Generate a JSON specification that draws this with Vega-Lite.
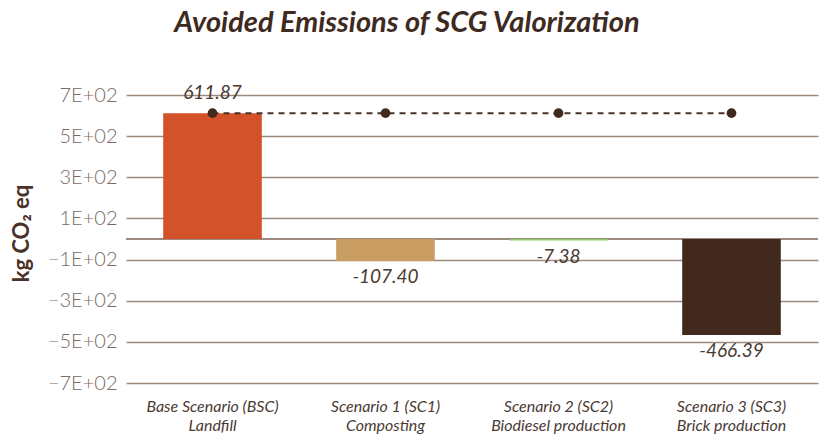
{
  "$schema": "https://vega.github.io/schema/vega-lite/v6.json",
  "autosize": {"type": "none"},
  "width": 692,
  "height": 288,
  "padding": {"left": 126, "top": 95, "right": 4, "bottom": 53},
  "background": "white",
  "config": {
    "font": "Lato",
    "view": {"stroke": null},
    "axis": {"labelFont": "Lato", "titleFont": "Lato"}
  },
  "title": {
    "text": "Avoided Emissions of SCG Valorization",
    "font": "Lato",
    "fontSize": 29,
    "fontWeight": "bold",
    "fontStyle": "italic",
    "color": "#3F2A1F",
    "anchor": "middle",
    "frame": "group",
    "dx": -65,
    "offset": 46
  },
  "data": {
    "values": [
      {"scenario": "Base Scenario (BSC)|Landfill", "value": 611.87, "label": "611.87", "baseline": 611.87},
      {"scenario": "Scenario 1 (SC1)|Composting", "value": -107.40, "label": "-107.40", "baseline": 611.87},
      {"scenario": "Scenario 2 (SC2)|Biodiesel production", "value": -7.38, "label": "-7.38", "baseline": 611.87},
      {"scenario": "Scenario 3 (SC3)|Brick production", "value": -466.39, "label": "-466.39", "baseline": 611.87}
    ]
  },
  "encoding": {
    "x": {
      "field": "scenario",
      "type": "nominal",
      "sort": null,
      "scale": {"paddingInner": 0.43, "paddingOuter": 0.215},
      "axis": {
        "title": null,
        "domain": false,
        "ticks": false,
        "labelAngle": 0,
        "labelPadding": 15,
        "labelFontSize": 16,
        "labelFontStyle": "italic",
        "labelColor": "#4A3A33",
        "labelLineHeight": 19,
        "labelExpr": "split(datum.label, '|')"
      }
    }
  },
  "layer": [
    {
      "mark": {"type": "rule", "color": "#9C8A80", "strokeWidth": 1.3},
      "encoding": {"y": {"datum": 0, "type": "quantitative"}, "x": null}
    },
    {
      "mark": {"type": "bar"},
      "encoding": {
        "y": {
          "field": "value",
          "type": "quantitative",
          "scale": {"domain": [-700, 700], "nice": false, "zero": true},
          "axis": {
            "values": [-700, -500, -300, -100, 100, 300, 500, 700],
            "labelExpr": "replace(format(datum.value, '.0e'), 'e+', 'E+0')",
            "labelFontSize": 20,
            "labelFontWeight": 300,
            "labelColor": "#7A6A62",
            "labelPadding": 9,
            "ticks": false,
            "domain": false,
            "grid": true,
            "gridColor": "#9C8A80",
            "gridWidth": 1.3,
            "title": "kg CO₂ eq",
            "titleFontSize": 22,
            "titleFontWeight": "bold",
            "titleColor": "#4A3228",
            "titleAngle": -90,
            "titleX": -105,
            "titleY": 138,
            "titleBaseline": "middle",
            "titleAlign": "center"
          }
        },
        "color": {
          "field": "scenario",
          "type": "nominal",
          "sort": null,
          "scale": {
            "domain": ["Base Scenario (BSC)|Landfill", "Scenario 1 (SC1)|Composting", "Scenario 2 (SC2)|Biodiesel production", "Scenario 3 (SC3)|Brick production"],
            "range": ["#D4522A", "#C99D62", "#8DC86A", "#42291E"]
          },
          "legend": null
        }
      }
    },
    {
      "mark": {"type": "line", "color": "#4A3228", "strokeDash": [6, 5], "strokeWidth": 2},
      "encoding": {"y": {"field": "baseline", "type": "quantitative"}}
    },
    {
      "mark": {"type": "point", "filled": true, "color": "#42291E", "opacity": 1, "size": 95},
      "encoding": {"y": {"field": "baseline", "type": "quantitative"}}
    },
    {
      "transform": [{"filter": "datum.value > 0"}],
      "mark": {"type": "text", "fontSize": 19, "fontStyle": "italic", "color": "#4A3A33", "baseline": "middle", "dy": -20},
      "encoding": {"y": {"field": "value", "type": "quantitative"}, "text": {"field": "label"}}
    },
    {
      "transform": [{"filter": "datum.value < 0"}],
      "mark": {"type": "text", "fontSize": 19, "fontStyle": "italic", "color": "#4A3A33", "baseline": "middle", "dy": 16},
      "encoding": {"y": {"field": "value", "type": "quantitative"}, "text": {"field": "label"}}
    }
  ]
}
